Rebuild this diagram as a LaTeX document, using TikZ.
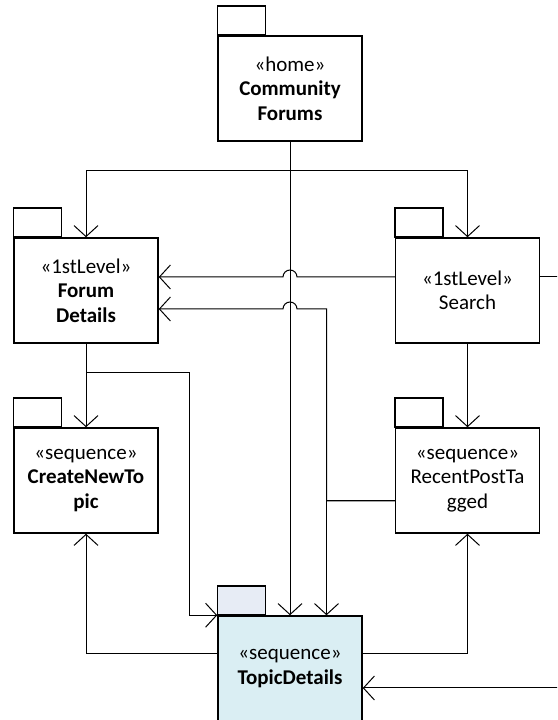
\documentclass[tikz,border=0pt]{standalone}
\usepackage{fontspec}
\setmainfont{Carlito}
\usetikzlibrary{arrows.meta,calc}
\definecolor{tdfill}{HTML}{DAEEF3}
\definecolor{tabfill}{HTML}{E7ECF5}
\tikzset{
  pkg/.style={draw, line width=1.5pt, fill=white, minimum width=144pt,
    minimum height=105pt, align=center, inner sep=2pt,
    font=\fontsize{21}{24.5}\selectfont},
  link/.style={line width=1pt, -{Straight Barb[length=11pt,width=24pt]}},
  wire/.style={line width=1pt},
}
% folder tab on top of a package node
\newcommand\pkgtab[2][white]{\draw[line width=1.5pt, fill=#1] (#2.north west) rectangle ++(48,29);}
\begin{document}
\begin{tikzpicture}[x=1pt,y=1pt]
\useasboundingbox (0,0) rectangle (557,720);
\clip (0,0) rectangle (557,720);

% packages
\node[pkg] (CF)  at (290,631.5)  {«home»\\\textbf{Community}\\\textbf{Forums}};
\node[pkg] (FD)  at (86,429.5)   {«1stLevel»\\\textbf{Forum}\\\textbf{Details}};
\node[pkg] (S)   at (467.5,429.5){«1stLevel»\\Search};
\node[pkg] (CNT) at (86,239.5)   {«sequence»\\\textbf{CreateNewTo}\\\textbf{pic}};
\node[pkg] (RPT) at (467.5,239.5){«sequence»\\RecentPostTa\\gged};
\node[pkg, fill=tdfill] (TD) at (290,51.5) {«sequence»\\\textbf{TopicDetails}};
\pkgtab{CF}
\pkgtab{FD}
\pkgtab{S}
\pkgtab{CNT}
\pkgtab{RPT}
\pkgtab[tabfill]{TD}

% helper points on node sides
\coordinate (s1) at ([yshift=13.5pt]S.west);
\coordinate (f1) at ([yshift=13.5pt]FD.east);
\coordinate (f2) at ([yshift=-18.5pt]FD.east);
\coordinate (r2) at ([yshift=-20.5pt]RPT.west);
\coordinate (c2) at ([xshift=36.5pt]TD.north);

% home to first level and to topic details
\draw[link] (CF.south) -- ++(0,-29) -| (FD.north);
\draw[link] (CF.south) -- ++(0,-29) -| (S.north);
\draw[link] (CF.south) -- (TD.north);

% search back to forum details, hopping over the trunk
\draw[link] (s1) -- ($(CF.south |- s1)+(7,0)$)
  arc[start angle=0, end angle=180, radius=7pt] -- (f1);

% recent posts to forum details and to topic details
\draw[link] (r2) -| (c2 |- f2) -- ($(CF.south |- f2)+(7,0)$)
  arc[start angle=0, end angle=180, radius=7pt] -- (f2);
\draw[link] (r2) -| (c2);

% forum details down
\draw[link] (FD.south) -- (CNT.north);
\draw[link] (FD.south) -- ++(0,-29) -| ($(TD.north west)+(-28,0)$) -- (TD.north west);

% search down
\draw[link] (S.south) -- (RPT.north);

% topic details back up
\draw[link] ([yshift=14.5pt]TD.west) -| (CNT.south);
\draw[link] ([yshift=14.5pt]TD.east) -| (RPT.south);

% search round the right side into topic details
\draw[link] ([yshift=13.5pt]S.east) -- ++(40,0) |- ([yshift=-19.5pt]TD.east);
\end{tikzpicture}
\end{document}
